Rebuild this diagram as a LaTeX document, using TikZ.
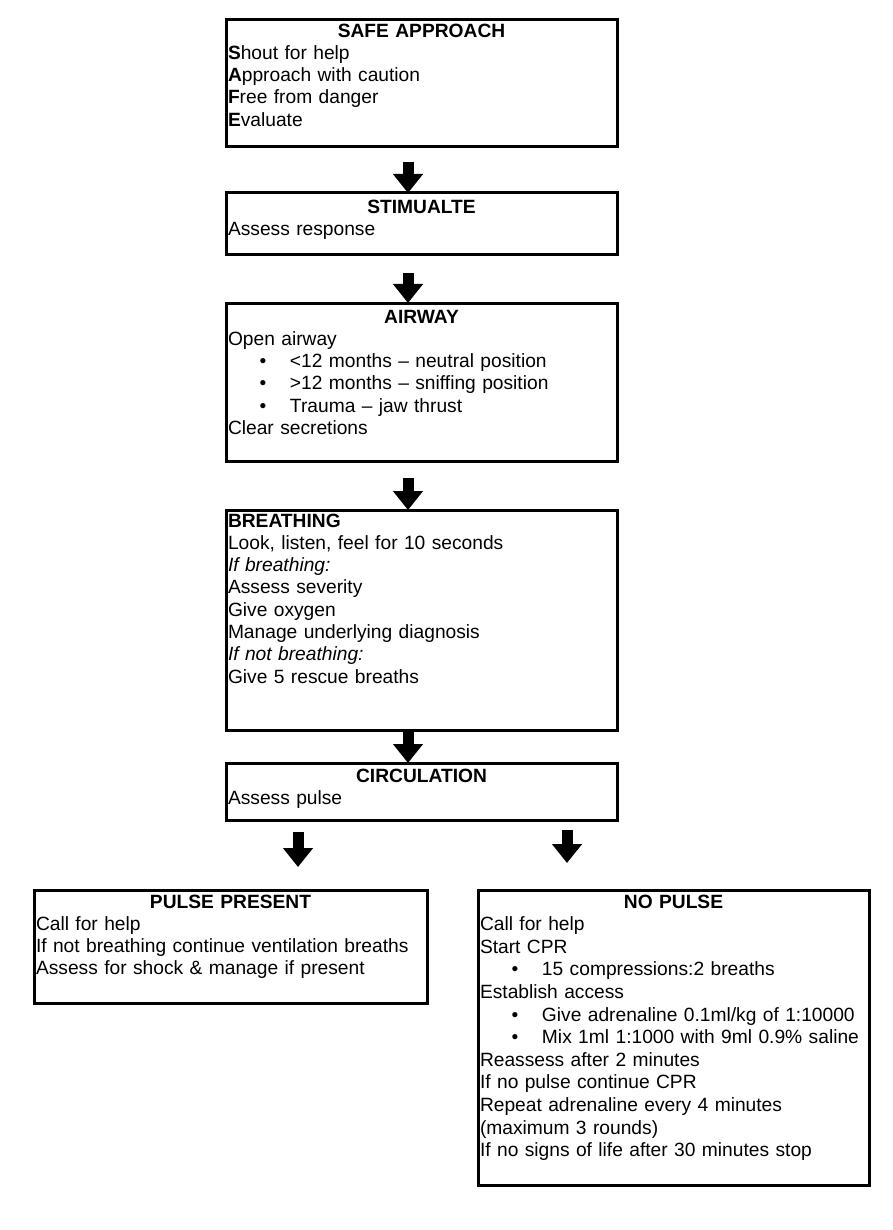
\documentclass[tikz,border=0pt]{standalone}
\usepackage{fontspec}
\setmainfont{Liberation Sans}
\usetikzlibrary{arrows.meta}
\newcommand\mybul{\makebox[62pt][l]{\hspace*{31.5pt}\textbullet}}
\begin{document}
\begin{tikzpicture}[x=1pt,y=-1pt,
  box/.style={draw, line width=3pt, anchor=north west, inner sep=0pt, outer sep=0pt},
  txt/.style={anchor=north west, inner sep=0pt, outer sep=0pt, align=left,
    font=\fontsize{19.2}{22.3}\selectfont},
  bigarrow/.style={line width=11pt, -{Triangle[length=19pt,width=29pt]}}]
\useasboundingbox (0,0) rectangle (892,1230);

% boxes
\node[box, minimum width=391pt, minimum height=127pt] (safe) at (226,20) {};
\node[box, minimum width=391pt, minimum height=62pt] (stim) at (226,193) {};
\node[box, minimum width=391pt, minimum height=158pt] (airway) at (226,303) {};
\node[box, minimum width=391pt, minimum height=220pt] (breath) at (226,510) {};
\node[box, minimum width=391pt, minimum height=57pt] (circ) at (226,763) {};
\node[box, minimum width=393pt, minimum height=113pt] (pulse) at (34,890) {};
\node[box, minimum width=391pt, minimum height=295pt] (nopulse) at (478,890) {};

% texts
\node[txt, text width=387pt] (safet) at (228,21.4) {\strut\makebox[\linewidth]{\bfseries SAFE APPROACH}\\
{\bfseries S}hout for help\\
{\bfseries A}pproach with caution\\
{\bfseries F}ree from danger\\
{\bfseries E}valuate};

\node[txt, text width=387pt] (stimt) at (228,197.4) {\strut\makebox[\linewidth]{\bfseries STIMUALTE}\\
Assess response};

\node[txt, text width=387pt] (airwayt) at (228,307.4) {\strut\makebox[\linewidth]{\bfseries AIRWAY}\\
Open airway\\
\mybul <12 months – neutral position\\
\mybul >12 months – sniffing position\\
\mybul Trauma – jaw thrust\\
Clear secretions};

\node[txt, text width=387pt] (breatht) at (228,511.4) {\strut{\bfseries BREATHING}\\
Look, listen, feel for 10 seconds\\
\textit{If breathing:}\\
Assess severity\\
Give oxygen\\
Manage underlying diagnosis\\
\textit{If not breathing:}\\
Give 5 rescue breaths};

\node[txt, text width=387pt] (circt) at (228,766.4) {\strut\makebox[\linewidth]{\bfseries CIRCULATION}\\
Assess pulse};

\node[txt, text width=389pt] (pulset) at (36,892.4) {\strut\makebox[\linewidth]{\bfseries PULSE PRESENT}\\
Call for help\\
If not breathing continue ventilation breaths\\
Assess for shock \& manage if present};

\node[txt, text width=387pt, font=\fontsize{19.2}{22.6}\selectfont] (nopulset) at (480,892.2) {\strut\makebox[\linewidth]{\bfseries NO PULSE}\\
Call for help\\
Start CPR\\
\mybul 15 compressions:2 breaths\\
Establish access\\
\mybul Give adrenaline 0.1ml/kg of 1:10000\\
\mybul Mix 1ml 1:1000 with 9ml 0.9\% saline\\
Reassess after 2 minutes\\
If no pulse continue CPR\\
Repeat adrenaline every 4 minutes\\
(maximum 3 rounds)\\
If no signs of life after 30 minutes stop};

% arrows
\coordinate (la) at (298,867);
\coordinate (ra) at (567,863);
\draw[bigarrow] ([xshift=-13.5pt,yshift=-15pt]safe.south) -- ([xshift=-13.5pt]stim.north);
\draw[bigarrow] ([xshift=-13.5pt,yshift=-18pt]stim.south) -- ([xshift=-13.5pt]airway.north);
\draw[bigarrow] ([xshift=-13.5pt,yshift=-17pt]airway.south) -- ([xshift=-13.5pt]breath.north);
\draw[bigarrow] ([xshift=-13.5pt]breath.south) -- ([xshift=-13.5pt]circ.north);
\draw[bigarrow] ([yshift=-12pt]circ.south -| la) -- (la);
\draw[bigarrow] ([yshift=-10pt]circ.south -| ra) -- (ra);
\end{tikzpicture}
\end{document}
